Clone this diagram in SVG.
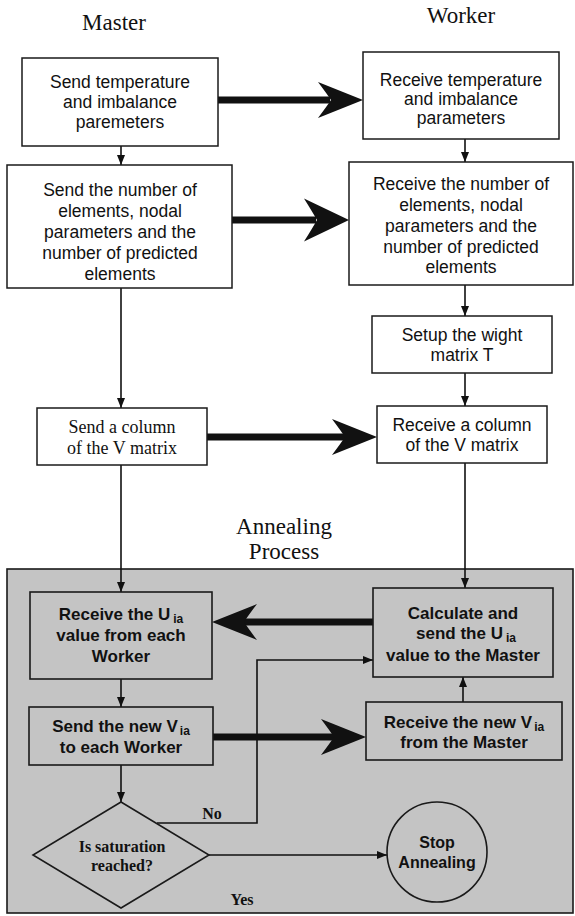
<svg xmlns="http://www.w3.org/2000/svg" width="575" height="916" viewBox="0 0 575 916">
  <style>
    .box { fill: #ffffff; stroke: #1a1a1a; stroke-width: 1.5; }
    .gbox { fill: none; stroke: #1a1a1a; stroke-width: 1.6; }
    .t { font-family: "Liberation Sans", Arial, sans-serif; font-size: 17.5px; fill: #111; text-anchor: middle; }
    .tb { font-family: "Liberation Sans", Arial, sans-serif; font-size: 17px; font-weight: bold; fill: #111; text-anchor: middle; }
    .ts { font-family: "Liberation Serif", "Times New Roman", serif; font-size: 18px; fill: #111; text-anchor: middle; }
    .tsb { font-family: "Liberation Serif", "Times New Roman", serif; font-size: 16px; font-weight: bold; fill: #111; text-anchor: middle; }
    .title { font-family: "Liberation Serif", "Times New Roman", serif; font-size: 23px; fill: #111; text-anchor: middle; }
    .sub { font-size: 12px; }
    .thin { fill: none; stroke: #111; stroke-width: 1.6; }
    .thick { fill: none; stroke: #111; stroke-width: 7; }
    .head { fill: #111; }
  </style>
  <defs>
    <marker id="arr" viewBox="0 0 10 10" refX="10" refY="5" markerWidth="10" markerHeight="10" markerUnits="userSpaceOnUse" orient="auto">
      <path d="M0,1 L10,5 L0,9 Z" fill="#111"/>
    </marker>
    <!-- barbed head for the thick message arrows, tip at origin pointing +x -->
    <path id="bigHead" d="M0,0 L-45,-18 Q-36,-6 -32,0 Q-36,6 -45,18 Z"/>
  </defs>

  <rect width="575" height="916" fill="#ffffff"/>

  <!-- shaded annealing region -->
  <rect id="annealing-region" x="7" y="569" width="566" height="344" fill="#c4c4c4" stroke="#1a1a1a" stroke-width="1.6"/>

  <!-- column titles -->
  <text class="title" x="114" y="30">Master</text>
  <text class="title" x="461" y="23">Worker</text>
  <g class="title">
    <text class="title" x="284" y="534">Annealing</text>
    <text class="title" x="284" y="559">Process</text>
  </g>

  <!-- connectors -->
  <g id="connectors">
    <!-- master column -->
    <line class="thin" x1="121" y1="146" x2="121" y2="165" marker-end="url(#arr)"/>
    <line class="thin" x1="121" y1="288" x2="121" y2="408" marker-end="url(#arr)"/>
    <line class="thin" x1="121" y1="465" x2="121" y2="592" marker-end="url(#arr)"/>
    <line class="thin" x1="121" y1="679" x2="121" y2="707" marker-end="url(#arr)"/>
    <line class="thin" x1="121" y1="765" x2="121" y2="802" marker-end="url(#arr)"/>
    <!-- worker column -->
    <line class="thin" x1="465" y1="139" x2="465" y2="162" marker-end="url(#arr)"/>
    <line class="thin" x1="465" y1="285" x2="465" y2="316" marker-end="url(#arr)"/>
    <line class="thin" x1="465" y1="373" x2="465" y2="406" marker-end="url(#arr)"/>
    <line class="thin" x1="465" y1="463" x2="465" y2="588" marker-end="url(#arr)"/>
    <line class="thin" x1="463" y1="702" x2="463" y2="677" marker-end="url(#arr)"/>
    <!-- decision branches -->
    <polyline class="thin" points="157,823 257,823 257,660 373,660" marker-end="url(#arr)"/>
    <line class="thin" x1="209" y1="855" x2="387" y2="855" marker-end="url(#arr)"/>

    <!-- thick message arrows -->
    <line class="thick" x1="218" y1="100" x2="330" y2="100"/>
    <use href="#bigHead" class="head" transform="translate(363,100)"/>
    <line class="thick" x1="232" y1="220" x2="316" y2="220"/>
    <use href="#bigHead" class="head" transform="translate(349,220) scale(1,1.2)"/>
    <line class="thick" x1="207" y1="437" x2="345" y2="437"/>
    <use href="#bigHead" class="head" transform="translate(377,437)"/>
    <line class="thick" x1="373" y1="622" x2="242" y2="622"/>
    <use href="#bigHead" class="head" transform="translate(212,622) rotate(180)"/>
    <line class="thick" x1="213" y1="737" x2="334" y2="737"/>
    <use href="#bigHead" class="head" transform="translate(366,737)"/>
  </g>

  <!-- master nodes -->
  <g id="m-send-temp">
    <rect class="box" x="22" y="58" width="196" height="88"/>
    <text class="t" x="120" y="88">Send temperature</text>
    <text class="t" x="120" y="108">and imbalance</text>
    <text class="t" x="120" y="128">paremeters</text>
  </g>
  <g id="m-send-elements">
    <rect class="box" x="7" y="165" width="225" height="123"/>
    <text class="t" x="120" y="196">Send the number of</text>
    <text class="t" x="120" y="217">elements, nodal</text>
    <text class="t" x="120" y="238">parameters and the</text>
    <text class="t" x="120" y="259">number of predicted</text>
    <text class="t" x="120" y="280">elements</text>
  </g>
  <g id="m-send-column">
    <rect class="box" x="37" y="408" width="170" height="57"/>
    <text class="ts" x="122" y="433">Send a column</text>
    <text class="ts" x="122" y="454">of the V matrix</text>
  </g>
  <g id="m-receive-u">
    <rect class="gbox" x="30" y="592" width="182" height="87"/>
    <text class="tb" x="121" y="620">Receive the U<tspan class="sub" dx="3" dy="3">ia</tspan></text>
    <text class="tb" x="121" y="641">value from each</text>
    <text class="tb" x="121" y="662">Worker</text>
  </g>
  <g id="m-send-v">
    <rect class="gbox" x="29" y="707" width="184" height="58"/>
    <text class="tb" x="121" y="732">Send the new V<tspan class="sub" dx="2" dy="3">ia</tspan></text>
    <text class="tb" x="121" y="753">to each Worker</text>
  </g>
  <g id="m-saturation">
    <polygon class="gbox" points="121,802 209,855 121,908 33,855"/>
    <text class="tsb" x="122" y="852">Is saturation</text>
    <text class="tsb" x="122" y="871">reached?</text>
  </g>

  <!-- worker nodes -->
  <g id="w-receive-temp">
    <rect class="box" x="363" y="52" width="196" height="87"/>
    <text class="t" x="461" y="86">Receive temperature</text>
    <text class="t" x="461" y="105">and imbalance</text>
    <text class="t" x="461" y="124">parameters</text>
  </g>
  <g id="w-receive-elements">
    <rect class="box" x="349" y="162" width="224" height="123"/>
    <text class="t" x="461" y="190">Receive the number of</text>
    <text class="t" x="461" y="211">elements, nodal</text>
    <text class="t" x="461" y="232">parameters and the</text>
    <text class="t" x="461" y="253">number of predicted</text>
    <text class="t" x="461" y="273">elements</text>
  </g>
  <g id="w-setup">
    <rect class="box" x="372" y="316" width="180" height="57"/>
    <text class="t" x="462" y="341">Setup the wight</text>
    <text class="t" x="462" y="361">matrix T</text>
  </g>
  <g id="w-receive-column">
    <rect class="box" x="377" y="406" width="170" height="57"/>
    <text class="t" x="462" y="431">Receive a column</text>
    <text class="t" x="462" y="451">of the V matrix</text>
  </g>
  <g id="w-calculate">
    <rect class="gbox" x="373" y="588" width="180" height="89"/>
    <text class="tb" x="463" y="619">Calculate and</text>
    <text class="tb" x="466" y="639">send the U<tspan class="sub" dx="3" dy="3">ia</tspan></text>
    <text class="tb" x="463" y="661">value to the Master</text>
  </g>
  <g id="w-receive-v">
    <rect class="gbox" x="366" y="702" width="196" height="58"/>
    <text class="tb" x="464" y="728">Receive the new V<tspan class="sub" dx="2" dy="3">ia</tspan></text>
    <text class="tb" x="464" y="748">from the Master</text>
  </g>
  <g id="stop">
    <circle class="gbox" cx="437" cy="852" r="50"/>
    <text class="tb" x="437" y="848" style="font-size:16px">Stop</text>
    <text class="tb" x="437" y="868" style="font-size:16px">Annealing</text>
  </g>

  <!-- branch labels -->
  <text class="tsb" x="212" y="819">No</text>
  <text class="tsb" x="242" y="905">Yes</text>
</svg>
